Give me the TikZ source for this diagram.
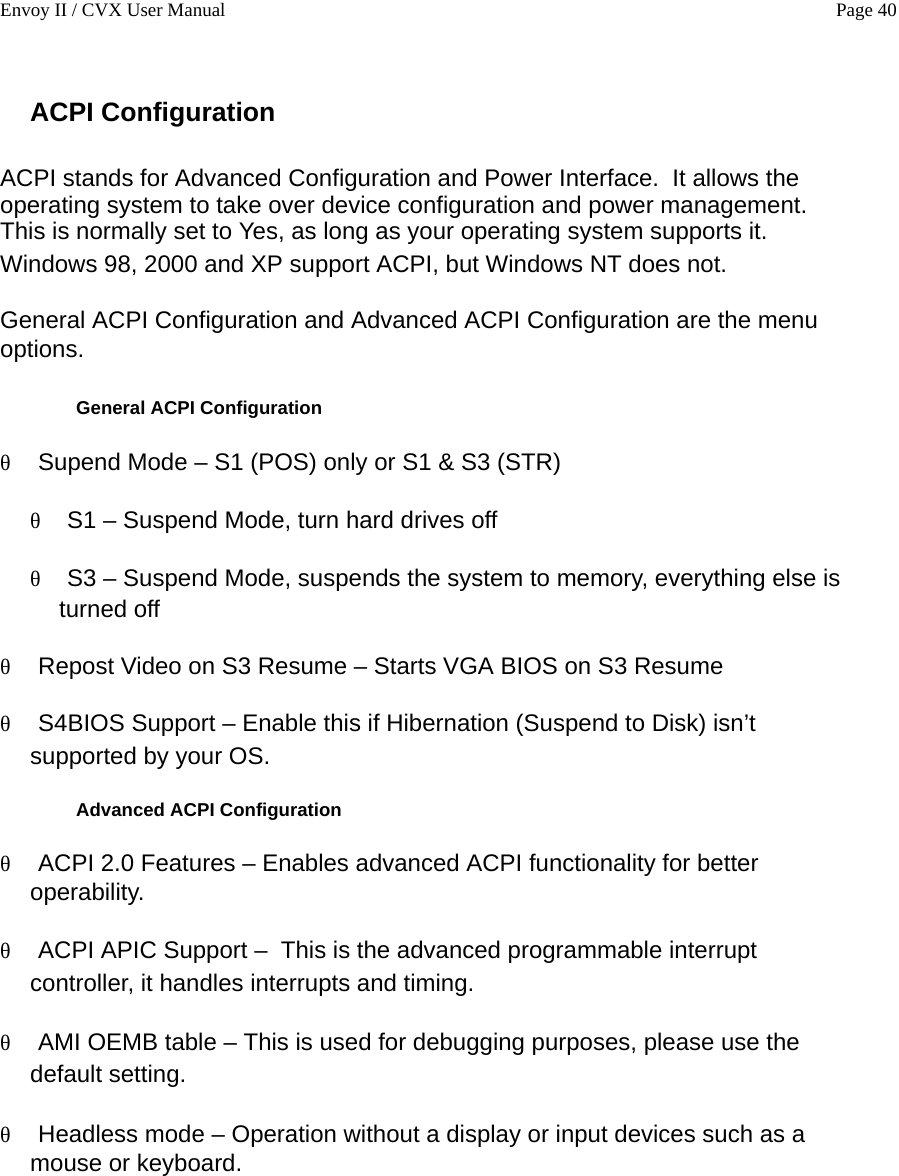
\documentclass[tikz,border=0pt]{standalone}
\usepackage{fontspec}
\setmainfont{Liberation Sans}
\newfontfamily\serif{Liberation Serif}
\begin{document}
\begin{tikzpicture}[x=1pt,y=-1pt,
  txt/.style={anchor=base west,inner sep=0pt,font=\fontsize{24}{28}\selectfont},
  hd/.style={anchor=base west,inner sep=0pt,font=\bfseries\fontsize{18.6}{22}\selectfont},
  th/.style={anchor=base west,inner sep=0pt,font=\serif\fontsize{22}{26}\selectfont}]
\useasboundingbox (0,0) rectangle (899,1176);
\node[anchor=base west,inner sep=0pt,font=\serif\fontsize{19}{22}\selectfont] (h1) at (0,16) {Envoy II / CVX User Manual};
\node[anchor=base east,inner sep=0pt,font=\serif\fontsize{19}{22}\selectfont] (h2) at (897,16) {Page 40};
\node[anchor=base west,inner sep=0pt,font=\bfseries\fontsize{26.6}{30}\selectfont] (t) at (30,121) {ACPI Configuration};
\node[txt] (p1) at (0,186) {ACPI stands for Advanced Configuration and Power Interface.\ \ It allows the};
\node[txt] (p2) at (0,213) {operating system to take over device configuration and power management.};
\node[txt] (p3) at (0,239) {This is normally set to Yes, as long as your operating system supports it.};
\node[txt] (p4) at (0,272) {Windows 98, 2000 and XP support ACPI, but Windows NT does not.};
\node[txt] (p5) at (0,328) {General ACPI Configuration and Advanced ACPI Configuration are the menu};
\node[txt] (p6) at (0,357) {options.};
\node[hd] (g) at (76,414) {General ACPI Configuration};
\node[th] (b1) at (0,470) {θ}; \node[txt] (l1) at (38,470) {Supend Mode – S1 (POS) only or S1 \& S3 (STR)};
\node[th] (b2) at (30,528) {θ}; \node[txt] (l2) at (67,528) {S1 – Suspend Mode, turn hard drives off};
\node[th] (b3) at (30,586) {θ}; \node[txt] (l3) at (67,586) {S3 – Suspend Mode, suspends the system to memory, everything else is};
\node[txt] (l3b) at (59,617) {turned off};
\node[th] (b4) at (0,674) {θ}; \node[txt] (l4) at (38,674) {Repost Video on S3 Resume – Starts VGA BIOS on S3 Resume};
\node[th] (b5) at (0,731) {θ}; \node[txt] (l5) at (38,731) {S4BIOS Support – Enable this if Hibernation (Suspend to Disk) isn’t};
\node[txt] (l5b) at (30,764) {supported by your OS.};
\node[hd] (a) at (76,816) {Advanced ACPI Configuration};
\node[th] (b6) at (0,871) {θ}; \node[txt] (l6) at (38,871) {ACPI 2.0 Features – Enables advanced ACPI functionality for better};
\node[txt] (l6b) at (30,900) {operability.};
\node[th] (b7) at (0,958) {θ}; \node[txt] (l7) at (38,958) {ACPI APIC Support –\ \ This is the advanced programmable interrupt};
\node[txt] (l7b) at (30,991) {controller, it handles interrupts and timing.};
\node[th] (b8) at (0,1050) {θ}; \node[txt] (l8) at (38,1050) {AMI OEMB table – This is used for debugging purposes, please use the};
\node[txt] (l8b) at (30,1082) {default setting.};
\node[th] (b9) at (0,1142) {θ}; \node[txt] (l9) at (38,1142) {Headless mode – Operation without a display or input devices such as a};
\node[txt] (l9b) at (30,1171) {mouse or keyboard.};
\end{tikzpicture}
\end{document}
